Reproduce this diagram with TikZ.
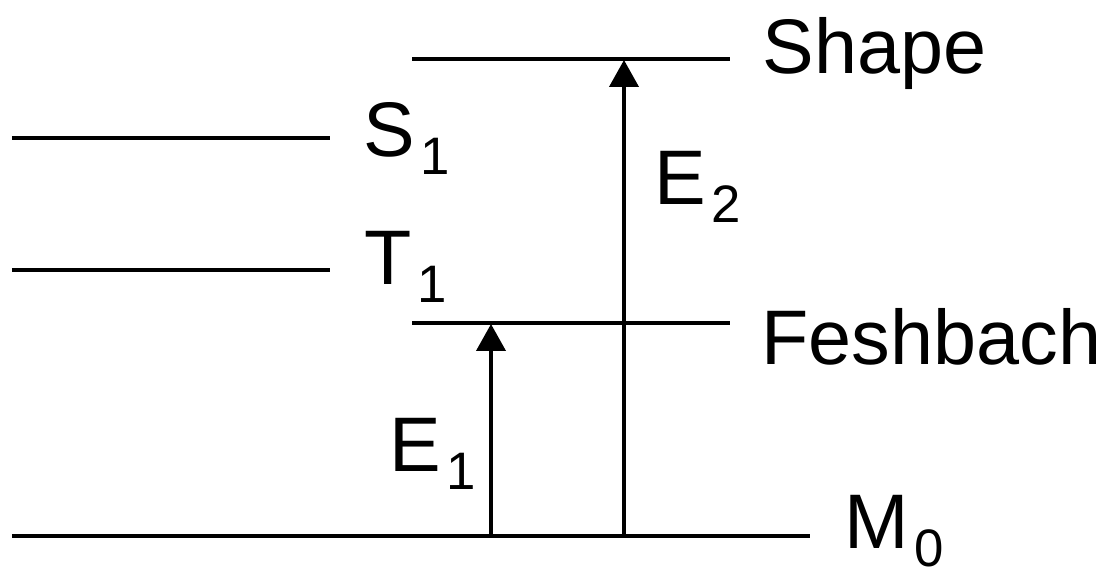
\documentclass[tikz,border=0pt]{standalone}
\usepackage{fontspec}
\setmainfont{Liberation Sans}
\usetikzlibrary{arrows.meta}
\newcommand{\lvl}[2]{#1\kern1.5pt\raisebox{-0.18cm}{\fontsize{15}{18}\selectfont #2}}
\begin{document}
\begin{tikzpicture}[
    x=0.01cm, y=-0.01cm,
    level/.style={line width=1.15pt},
    jump/.style={line width=1.15pt, -{Triangle[length=0.27cm, width=0.29cm]}},
    lbl/.style={anchor=base west, inner sep=0pt, font=\fontsize{22}{26}\selectfont}
]
    \useasboundingbox (0,0) rectangle (1114,571);

    \draw[level] (12,138) -- (330,138);
    \draw[level] (12,270) -- (330,270);
    \draw[level] (412,59) -- (730,59);
    \draw[level] (412,323) -- (730,323);
    \draw[level] (12,536) -- (810,536);

    \node[lbl] (s1) at (363,157) {\lvl{S}{1}};
    \node[lbl] (t1) at (364,285) {\lvl{T}{1}};
    \node[lbl] (shape) at (762,74) {Shape};
    \node[lbl] (fesh) at (761,365) {Feshbach};
    \node[lbl] (m0) at (844,549) {\lvl{M}{0}};

    \coordinate (e1s) at (491,536);
    \coordinate (e1t) at (491,324);
    \coordinate (e2s) at (624,536);
    \coordinate (e2t) at (624,60);
    \draw[jump] (e1s) -- (e1t);
    \draw[jump] (e2s) -- (e2t);

    \node[lbl] (e1) at (389,472) {\lvl{E}{1}};
    \node[lbl] (e2) at (654,205) {\lvl{E}{2}};
\end{tikzpicture}
\end{document}
